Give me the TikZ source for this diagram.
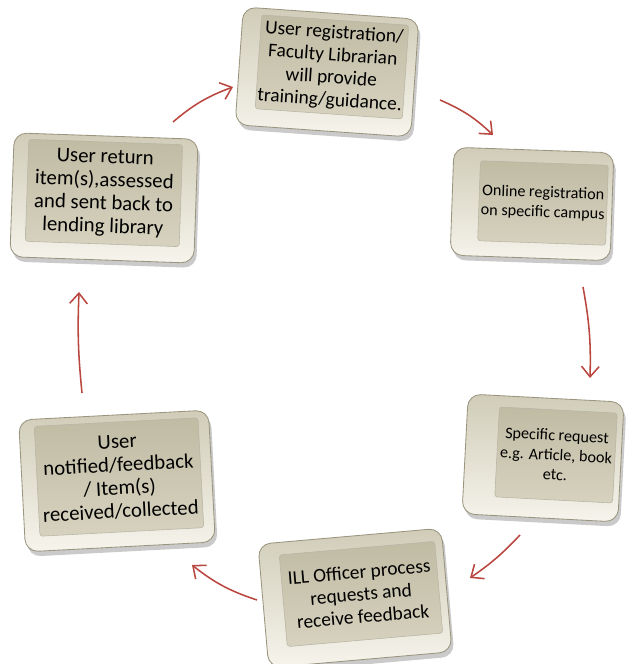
\documentclass[tikz,border=0pt]{standalone}
\usepackage{fontspec}
\setmainfont{Carlito}
\usetikzlibrary{arrows.meta,shadows}
\definecolor{capedge}{HTML}{9A957F}
\definecolor{captop}{HTML}{D0CCB8}
\definecolor{capbot}{HTML}{F6F4EC}
\definecolor{facetop}{HTML}{C0BBA3}
\definecolor{facebot}{HTML}{D6D2BF}
\definecolor{arrowred}{HTML}{B9473F}

\begin{document}
\begin{tikzpicture}[keycap/.style={draw=capedge,line width=.6pt,top color=captop,bottom color=capbot,rounded corners=9pt,drop shadow={shadow xshift=.6mm,shadow yshift=-1.2mm,opacity=.35,fill=black!60}},face/.style={draw=capedge!70,line width=.4pt,top color=facetop,bottom color=facebot,rounded corners=2pt,align=center,inner sep=1pt,font=\fontsize{13.8}{16}\selectfont},big/.style={font=\fontsize{14.8}{16.5}\selectfont},small/.style={font=\fontsize{11.5}{14}\selectfont},a/.style={-{Straight Barb[length=2.6mm,width=4.4mm]},draw=arrowred,line width=1.1pt}]
\useasboundingbox (0,0) rectangle (15.675,16.6);
\node[keycap,rotate=-4,minimum width=4.4cm,minimum height=2.95cm] (regOut) at (8.175,14.8) {};
\node[face,rotate=-4,minimum width=3.6cm,minimum height=2.35cm] (reg) at (8.3,14.925) {User registration/\\Faculty Librarian\\will provide\\training/guidance.};
\node[keycap,rotate=-2,minimum width=4.0cm,minimum height=2.7cm] (onlineOut) at (13.3,11.5) {};
\node[face,small,rotate=-2,minimum width=3.2cm,minimum height=2.0cm] (online) at (13.575,11.525) {Online registration\\on specific campus};
\node[keycap,rotate=-3,minimum width=3.9cm,minimum height=3.0cm] (reqOut) at (13.575,5.15) {};
\node[face,small,rotate=-3,minimum width=2.95cm,minimum height=2.25cm] (req) at (13.9,5.225) {Specific request\\e.g. Article, book\\etc.};
\node[keycap,rotate=5,minimum width=4.6cm,minimum height=3.1cm] (illOut) at (8.875,1.65) {};
\node[face,rotate=5,minimum width=3.9cm,minimum height=2.3cm] (ill) at (9.025,1.75) {ILL Officer process\\requests and\\receive feedback};
\node[keycap,rotate=3,minimum width=4.75cm,minimum height=3.3cm] (notifOut) at (2.925,4.575) {};
\node[face,big,rotate=3,minimum width=4.1cm,minimum height=2.75cm] (notif) at (2.975,4.675) {User\\notified/feedback\\/ Item(s)\\received/collected};
\node[keycap,rotate=-2,minimum width=4.6cm,minimum height=3.1cm] (retOut) at (2.6,11.65) {};
\node[face,big,rotate=-2,minimum width=3.85cm,minimum height=2.55cm] (ret) at (2.6,11.775) {User return\\item(s),assessed\\and sent back to\\lending library};
% arrow ends
\coordinate (retA) at (4.325,13.55); \coordinate (regB) at (5.825,14.425);
\coordinate (regA) at (11.0,14.1); \coordinate (onlineB) at (12.325,13.225);
\coordinate (onlineA) at (14.575,9.425); \coordinate (reqB) at (14.75,7.15);
\coordinate (reqA) at (13.0,3.225); \coordinate (illB) at (11.75,2.15);
\coordinate (illA) at (6.425,1.6); \coordinate (notifB) at (4.8,2.475);
\coordinate (notifA) at (2.05,6.775); \coordinate (retB) at (1.975,9.3);
\draw[a] (retA) to[bend left=10] (regB);
\draw[a] (regA) to[bend left=10] (onlineB);
\draw[a] (onlineA) to[bend left=6] (reqB);
\draw[a] (reqA) to[bend left=6] (illB);
\draw[a] (illA) to[bend left=10] (notifB);
\draw[a] (notifA) to[bend left=4] (retB);
\end{tikzpicture}
\end{document}
